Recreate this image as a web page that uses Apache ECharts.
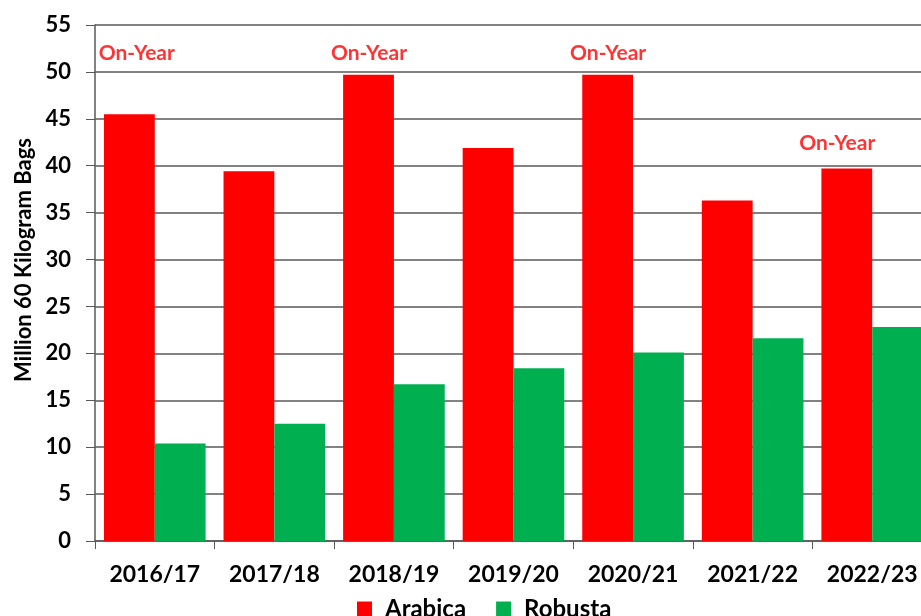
<!DOCTYPE html>
<html><head><meta charset="utf-8">
<script src="https://cdn.jsdelivr.net/npm/echarts@6/dist/echarts.min.js"></script>
<style>html,body{margin:0;padding:0;background:#fff;overflow:hidden}#c{width:940px;height:616px}</style>
</head><body><div id="c"></div>
<script>
const categories = ['2016/17','2017/18','2018/19','2019/20','2020/21','2021/22','2022/23'];
const arabica = [45.5, 39.4, 49.7, 41.9, 49.7, 36.3, 39.7];
const robusta = [10.4, 12.5, 16.7, 18.4, 20.1, 21.6, 22.8];
const onYearText = ['On-Year', null, 'On-Year', null, 'On-Year', null, 'On-Year'];
const onYearLevel = [52.0, null, 52.0, null, 52.0, null, 42.4];
const yTicks = [0,5,10,15,20,25,30,35,40,45,50,55];

const FONT = 'Lato, "Open Sans", sans-serif';
const labelNudge = { 0: 7, 6: -10 };
const chart = echarts.init(document.getElementById('c'));
chart.setOption({
  animation: false,
  grid: { left: 95, width: 837, top: 25, bottom: 75, containLabel: false },
  legend: {
    data: ['Arabica', 'Robusta'],
    left: 357, top: 597,
    icon: 'rect', itemWidth: 15, itemHeight: 15, itemGap: 30, padding: 0,
    textStyle: { fontFamily: FONT, fontWeight: 'bold', fontSize: 24, color: '#000', padding: [0, 0, 0, 8] }
  },
  xAxis: {
    type: 'category', data: categories,
    axisLine: { lineStyle: { color: '#595959', width: 1.5 } },
    axisTick: { show: true, length: 8, lineStyle: { color: '#595959' } },
    axisLabel: { margin: 22, fontFamily: FONT, fontWeight: 'bold', fontSize: 23, color: '#000' }
  },
  yAxis: {
    type: 'value', min: yTicks[0], max: yTicks[yTicks.length-1], interval: 5,
    name: 'Million 60 Kilogram Bags', nameLocation: 'middle', nameGap: 60, nameRotate: 90,
    nameTextStyle: { fontFamily: FONT, fontWeight: 'bold', fontSize: 22, color: '#000', padding: [0, 0, 0, 46] },
    axisLine: { show: true, lineStyle: { color: '#595959', width: 1.5 } },
    axisTick: { show: true, length: 9, lineStyle: { color: '#595959' } },
    splitLine: { lineStyle: { color: '#595959', width: 1.5 } },
    axisLabel: { margin: 24, fontFamily: FONT, fontWeight: 'bold', fontSize: 22, color: '#000' }
  },
  series: [
    { name: 'Arabica', type: 'bar', data: arabica, barGap: '0%', barCategoryGap: '15%',
      itemStyle: { color: '#FF0000' } },
    { name: 'Robusta', type: 'bar', data: robusta, barGap: '0%', barCategoryGap: '15%',
      itemStyle: { color: '#00B050' } },
    { name: 'onyear', type: 'scatter', symbolSize: 0, silent: true,
      data: onYearLevel.map((v, i) => v == null ? null : {
        value: [i, v], name: onYearText[i],
        label: { offset: [-25 + (labelNudge[i] || 0), 0] } }),
      label: { show: true, position: 'inside', formatter: p => p.name,
        fontFamily: FONT, fontWeight: 'bold', fontSize: 21, color: '#FF0000' } }
  ]
});
</script></body></html>
